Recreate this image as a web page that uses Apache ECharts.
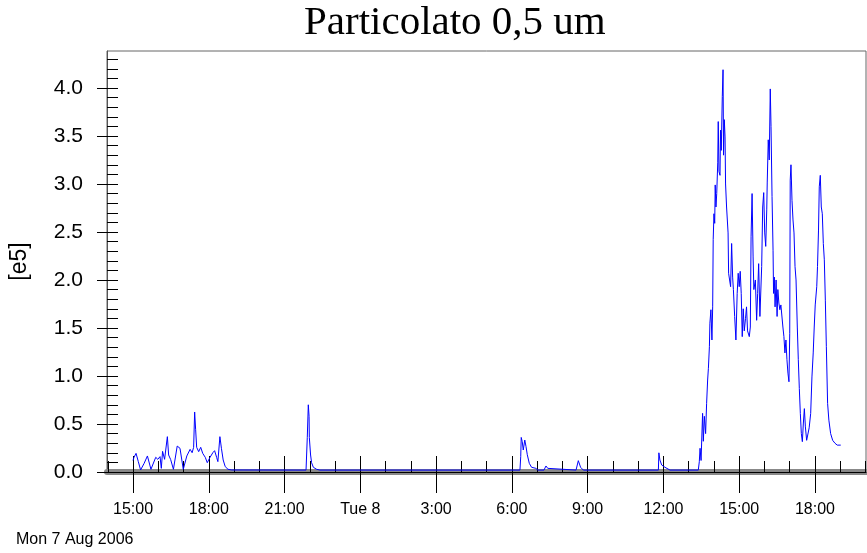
<!DOCTYPE html>
<html>
<head>
<meta charset="utf-8">
<script src="https://cdn.jsdelivr.net/npm/echarts@6/dist/echarts.min.js"></script>
<style>
  html, body { margin: 0; padding: 0; background: #fff; }
  #main { width: 867px; height: 553px; }
</style>
</head>
<body>
<div id="main"></div>
<script>
// hours counted from Mon 7 Aug 2006 00:00, values in units of 1e5
var hours = [
  15.00, 15.04, 15.12, 15.21, 15.30, 15.44, 15.57, 15.71, 15.90, 15.98,
  16.07, 16.12, 16.17, 16.25, 16.36, 16.41, 16.49, 16.60, 16.75, 16.86,
  16.99, 17.13, 17.26, 17.34, 17.40, 17.44, 17.48, 17.52, 17.60, 17.68,
  17.76, 17.86, 17.94, 18.05, 18.16, 18.23, 18.31, 18.36, 18.44, 18.50,
  18.57, 18.65, 18.76, 18.91,
  21.85, 21.90, 21.94, 21.97, 21.98, 22.03, 22.07, 22.14, 22.27, 22.40,
  30.32, 30.35, 30.37, 30.41, 30.45, 30.51, 30.56, 30.61, 30.69, 30.78,
  30.95, 31.03, 31.27, 31.35, 31.42, 31.48,
  32.54, 32.63, 32.72, 32.83,
  35.80, 35.82, 35.86, 35.93, 36.06, 36.26,
  37.38, 37.42, 37.45, 37.49, 37.55, 37.58, 37.62, 37.67, 37.71, 37.75,
  37.78, 37.82, 37.84, 37.88, 37.92, 37.95, 37.97, 38.00, 38.03, 38.05,
  38.08, 38.11, 38.15, 38.17, 38.20, 38.24, 38.26, 38.29, 38.33, 38.36,
  38.38, 38.41, 38.44, 38.46, 38.50, 38.56, 38.58, 38.62, 38.66, 38.70,
  38.74, 38.77, 38.82, 38.87, 38.92, 38.96, 39.00, 39.04, 39.08, 39.12,
  39.16, 39.20, 39.25, 39.29, 39.33, 39.40, 39.44, 39.47, 39.51, 39.55,
  39.58, 39.64, 39.69, 39.73, 39.77, 39.82, 39.89, 39.93, 39.97, 40.01,
  40.05, 40.09, 40.11, 40.15, 40.19, 40.23, 40.26, 40.30, 40.34, 40.36,
  40.39, 40.42, 40.46, 40.50, 40.53, 40.57, 40.61, 40.65, 40.69, 40.73,
  40.77, 40.81, 40.85, 40.89, 40.93, 40.97, 41.00, 41.02, 41.05, 41.09,
  41.13, 41.17, 41.21, 41.25, 41.30, 41.34, 41.38, 41.42, 41.46, 41.50,
  41.54, 41.58, 41.62, 41.67, 41.74, 41.77, 41.83, 41.88, 41.93, 41.97,
  42.01, 42.07, 42.10, 42.14, 42.17, 42.21, 42.25, 42.29, 42.33, 42.37,
  42.41, 42.45, 42.50, 42.55, 42.62, 42.70, 42.79, 42.88, 42.94, 43.02
];
var counts = [
  0.12, 0.153, 0.194, 0.108, 0.021, 0.09, 0.167, 0.028, 0.153, 0.132,
  0.16, 0.038, 0.215, 0.132, 0.368, 0.177, 0.13, 0.028, 0.27, 0.247,
  0.028, 0.167, 0.236, 0.201, 0.257, 0.625, 0.44, 0.257, 0.212, 0.257,
  0.194, 0.153, 0.097, 0.153, 0.201, 0.222, 0.153, 0.108, 0.368, 0.247,
  0.125, 0.056, 0.028, 0.021,
  0.02, 0.36, 0.70, 0.58, 0.36, 0.177, 0.097, 0.049, 0.028, 0.02,
  0.02, 0.16, 0.36, 0.316, 0.229, 0.333, 0.264, 0.18, 0.09, 0.049,
  0.038, 0.02, 0.02, 0.0625, 0.038, 0.02,
  0.02, 0.118, 0.049, 0.02,
  0.02, 0.20, 0.125, 0.073, 0.049, 0.02,
  0.02, 0.107, 0.247, 0.12, 0.611, 0.32, 0.58, 0.40, 0.715, 0.958,
  1.08, 1.305, 1.55, 1.69, 1.375, 1.72, 2.42, 2.69, 2.59, 2.99,
  2.76, 2.90, 3.22, 3.65, 3.13, 3.09, 3.56, 3.35, 3.91, 4.19,
  3.30, 3.67, 3.49, 3.00, 2.76, 2.49, 2.07, 2.00, 1.93, 2.38,
  2.03, 1.90, 1.62, 1.375, 1.86, 2.07, 1.93, 2.09, 1.86, 1.41,
  1.70, 1.47, 1.60, 1.72, 1.47, 1.41, 1.51, 2.45, 2.90, 2.24,
  1.90, 2.00, 1.58, 1.86, 2.17, 1.62, 2.14, 2.76, 2.91, 2.49,
  2.35, 2.73, 3.02, 3.46, 3.25, 3.99, 3.60, 2.87, 2.31, 1.86,
  2.03, 1.72, 2.00, 1.62, 1.90, 1.76, 1.69, 1.74, 1.72, 1.51,
  1.41, 1.24, 1.375, 1.17, 1.03, 0.94, 1.44, 3.04, 3.20, 2.83,
  2.625, 2.49, 2.14, 2.00, 1.51, 1.17, 0.87, 0.61, 0.40, 0.316,
  0.51, 0.66, 0.47, 0.33, 0.33, 0.46, 0.61, 0.99, 1.24, 1.51,
  1.74, 1.93, 2.14, 2.52, 2.97, 3.09, 2.76, 2.69, 2.38, 2.21,
  1.79, 1.305, 0.715, 0.54, 0.40, 0.33, 0.30, 0.28, 0.30, 0.28
];

// axis ticks and labels
var xLabelHours = [15, 18, 21, 24, 27, 30, 33, 36, 39, 42];
var yLabelValues = [0, 0.5, 1.0, 1.5, 2.0, 2.5, 3.0, 3.5, 4.0];
var xMin = 13.97, xMax = 44.02;
var yMin = 0, yMax = 4.385;

var xHourTicks = [];
for (var h = 14; h <= 44; h++) xHourTicks.push(h);
var yMinorTicks = [];
for (var i = 0; i <= 43; i++) yMinorTicks.push(+(i / 10).toFixed(1));

var seriesData = hours.map(function (h, i) { return [h, counts[i]]; });

function hourLabel(v) {
  if (v === 24) return 'Tue 8';
  return (v % 24) + ':00';
}

var myChart = echarts.init(document.getElementById('main'), null, { renderer: 'canvas' });

var baseX = { type: 'value', min: xMin, max: xMax, position: 'bottom', splitLine: { show: false } };
var baseY = { type: 'value', min: yMin, max: yMax, position: 'left', splitLine: { show: false } };

option = {
  animation: false,
  backgroundColor: '#ffffff',
  title: [
    {
      text: 'Particolato 0,5 um',
      left: 299,
      top: -2,
      textStyle: { fontFamily: 'Liberation Serif', fontSize: 41, fontWeight: 'normal', color: '#000' }
    },
    {
      text: 'Mon 7 Aug 2006',
      left: 11,
      top: 527,
      textStyle: { fontFamily: 'Liberation Sans', fontSize: 16, fontWeight: 'normal', color: '#000' }
    }
  ],
  grid: {
    left: 107, right: 1, top: 51, bottom: 81,
    show: true, borderColor: '#666', borderWidth: 1,
    outerBoundsMode: 'none'
  },
  xAxis: [
    Object.assign({}, baseX, {
      offset: 4,
      axisLine: { show: true, lineStyle: { color: '#888', width: 6 } },
      axisTick: { show: false },
      axisLabel: { show: false }
    }),
    Object.assign({}, baseX, {
      axisLine: { show: true, lineStyle: { color: '#000', width: 1 } },
      axisTick: { show: true, inside: true, length: 11, customValues: xHourTicks, lineStyle: { color: '#000' } },
      axisLabel: { show: false }
    }),
    Object.assign({}, baseX, {
      axisLine: { show: true, lineStyle: { color: '#000', opacity: 0 } },
      axisTick: { show: true, inside: true, length: 16, customValues: xLabelHours, lineStyle: { color: '#000' } },
      axisLabel: { show: false }
    }),
    Object.assign({}, baseX, {
      axisLine: { show: true, lineStyle: { color: '#000', opacity: 0 } },
      axisTick: { show: true, inside: false, length: 21, customValues: xLabelHours, lineStyle: { color: '#000', width: 1 } },
      axisLabel: {
        show: true, customValues: xLabelHours, margin: 30,
        fontFamily: 'Liberation Sans', fontSize: 16, color: '#000',
        formatter: hourLabel
      }
    })
  ],
  yAxis: [
    Object.assign({}, baseY, {
      axisLine: { show: true, lineStyle: { color: '#555', width: 1 } },
      axisTick: { show: true, inside: true, length: 11, customValues: yMinorTicks, lineStyle: { color: '#000' } },
      axisLabel: { show: false }
    }),
    Object.assign({}, baseY, {
      name: '[e5]',
      nameLocation: 'middle',
      nameRotate: 90,
      nameGap: 76,
      nameTextStyle: { fontFamily: 'Liberation Sans', fontSize: 23, color: '#000' },
      axisLine: { show: true, lineStyle: { color: '#000', opacity: 0 } },
      axisTick: { show: true, inside: false, length: 10, customValues: yLabelValues, lineStyle: { color: '#000' } },
      axisLabel: {
        show: true, customValues: yLabelValues, margin: 24,
        fontFamily: 'Liberation Sans', fontSize: 21, color: '#000',
        formatter: function (v) { return v.toFixed(1); }
      }
    })
  ],
  series: [
    {
      name: 'Particolato 0,5 um',
      type: 'line',
      xAxisIndex: 1,
      yAxisIndex: 0,
      showSymbol: false,
      symbol: 'none',
      sampling: null,
      lineStyle: { color: '#0000ff', width: 1 },
      data: seriesData
    }
  ]
};

myChart.setOption(option);
</script>
</body>
</html>
